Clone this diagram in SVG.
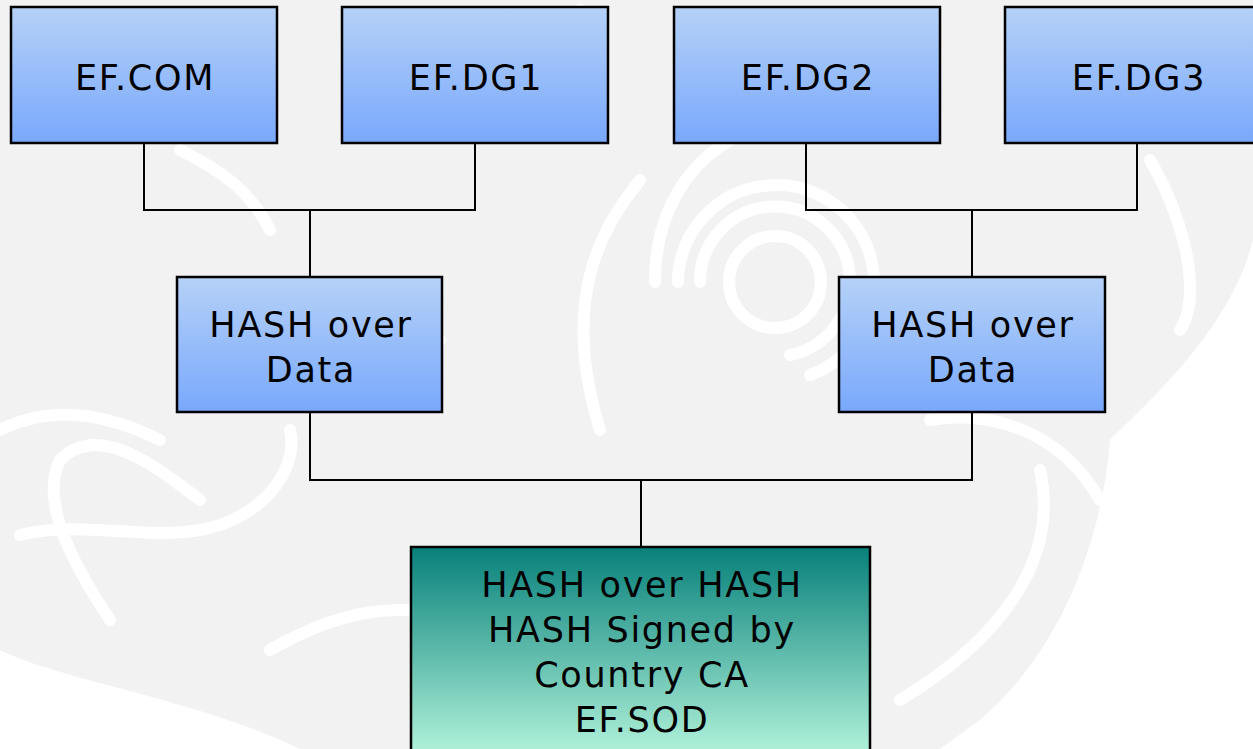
<svg xmlns="http://www.w3.org/2000/svg" width="1253" height="749" viewBox="0 0 1253 749">
<defs>
<linearGradient id="blue" x1="0" y1="0" x2="0" y2="1">
<stop offset="0" stop-color="#b5d1f7"/>
<stop offset="1" stop-color="#79a8fc"/>
</linearGradient>
<linearGradient id="teal" x1="0" y1="0" x2="0" y2="1">
<stop offset="0" stop-color="#07807a"/>
<stop offset="1" stop-color="#b8f7de"/>
</linearGradient>
</defs>
<style>
.box{stroke:#000;stroke-width:2.5}
.b{fill:url(#blue)}
.t{fill:url(#teal)}
text{font-family:"DejaVu Sans",Verdana,sans-serif;font-size:35px;fill:#000;text-anchor:middle;letter-spacing:1.7px}
.c{fill:none;stroke:#000;stroke-width:2}
.w{fill:none;stroke:#fff;stroke-width:12;stroke-linecap:round}
</style>
<rect width="1253" height="749" fill="#fff"/>
<g id="watermark">
<path d="M0,0 H1253 V240 C1230,330 1150,400 1110,440 C1100,560 1050,660 980,720 L940,749 H300 C200,700 60,680 0,650 Z" fill="#f2f2f2"/>
<circle class="w" cx="775" cy="282" r="46"/>
<path class="w" d="M700,282 A75,75 0 1 1 790,355"/>
<path class="w" d="M678,282 A98,98 0 1 1 810,375"/>
<path class="w" d="M655,282 C655,170 740,110 830,120"/>
<path class="w" d="M600,430 C560,300 600,230 640,180"/>
<path class="w" d="M20,535 C80,520 140,540 200,530 C260,520 300,470 290,430"/>
<path class="w" d="M110,620 C70,560 40,500 60,460 C100,420 160,470 200,500"/>
<path class="w" d="M270,650 C340,610 400,600 460,620"/>
<path class="w" d="M250,370 C300,340 380,320 440,340"/>
<path class="w" d="M0,430 C60,400 120,420 160,440"/>
<path class="w" d="M900,700 C1000,640 1060,560 1040,470"/>
<path class="w" d="M930,420 C990,410 1060,430 1100,500"/>
<path class="w" d="M1150,160 C1190,230 1200,300 1180,330"/>
<path class="w" d="M470,30 C520,60 560,40 580,10"/>
<path class="w" d="M180,150 C220,170 250,190 270,230"/>
</g>
<g id="connectors">
<polyline class="c" points="144,143 144,210 475,210 475,143"/>
<line class="c" x1="310" y1="210" x2="310" y2="277"/>
<polyline class="c" points="806,143 806,210 1137,210 1137,143"/>
<line class="c" x1="972" y1="210" x2="972" y2="277"/>
<polyline class="c" points="310,412 310,480 972,480 972,412"/>
<line class="c" x1="641" y1="480" x2="641" y2="547"/>
</g>
<g id="ef-com"><rect class="box b" x="11" y="7" width="266" height="136"/><text x="145" y="90">EF.COM</text></g>
<g id="ef-dg1"><rect class="box b" x="342" y="7" width="266" height="136"/><text x="476" y="90">EF.DG1</text></g>
<g id="ef-dg2"><rect class="box b" x="674" y="7" width="266" height="136"/><text x="808" y="90">EF.DG2</text></g>
<g id="ef-dg3"><rect class="box b" x="1005" y="7" width="266" height="136"/><text x="1139" y="90">EF.DG3</text></g>
<g id="hash1"><rect class="box b" x="177" y="277" width="265" height="135"/><text x="311" y="337">HASH over</text><text x="311" y="382">Data</text></g>
<g id="hash2"><rect class="box b" x="839" y="277" width="266" height="135"/><text x="973" y="337">HASH over</text><text x="973" y="382">Data</text></g>
<g id="sod"><rect class="box t" x="411" y="547" width="459" height="215"/>
<text x="642" y="597">HASH over HASH</text>
<text x="642" y="642">HASH Signed by</text>
<text x="642" y="687">Country CA</text>
<text x="642" y="732">EF.SOD</text></g>
</svg>
